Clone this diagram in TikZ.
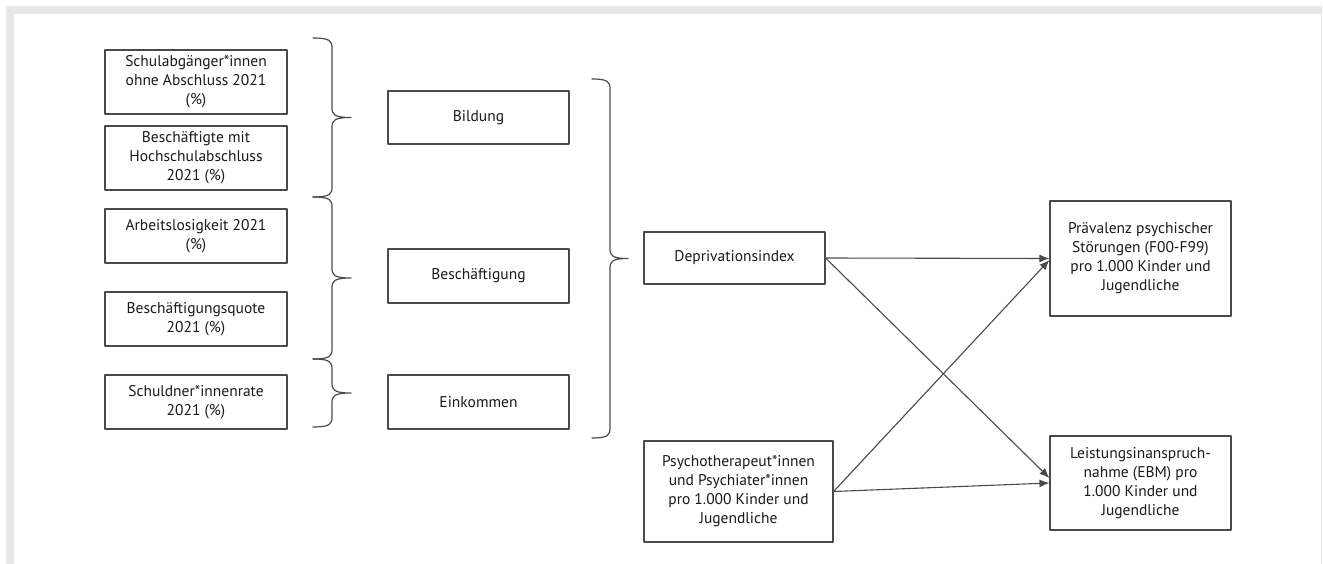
\documentclass[tikz,border=0pt]{standalone}
\usepackage{fontspec}
\setmainfont{PT Sans}
\usetikzlibrary{arrows.meta}
\definecolor{rahmen}{HTML}{E8E8E8}
\definecolor{linie}{HTML}{4A4A4A}
\definecolor{schrift}{HTML}{1A1A1A}
\tikzset{
  kasten/.style={draw=linie, line width=1.2pt, align=center, inner sep=0pt, text=schrift,
    font=\fontsize{15.5}{19}\selectfont},
  klammer/.style={draw=linie, line width=1.2pt},
  pfeil/.style={draw=linie, line width=1.1pt, -{Latex[length=10pt,width=8pt]}}
}
% geschweifte Klammer: x der Enden, y oben, y unten, halbe Breite
\newcommand{\gklammer}[4]{%
  \draw[klammer] (#1,#2) .. controls +({0.9*#4},0) and +(0,-7) .. ({#1+#4},{#2+10})
    -- ({#1+#4},{(#2+#3)/2-10}) .. controls +(0,7) and +({-0.9*#4},0) .. ({#1+2*#4},{(#2+#3)/2})
    .. controls +({-0.9*#4},0) and +(0,-7) .. ({#1+#4},{(#2+#3)/2+10})
    -- ({#1+#4},{#3-10}) .. controls +(0,7) and +({0.9*#4},0) .. (#1,#3);}
\begin{document}
\begin{tikzpicture}[x=1pt, y=-1pt, line join=round, line cap=round]
  \useasboundingbox (0,0) rectangle (1323,564);
  % Rahmen
  \fill[rahmen] (6,6) rectangle (1322,564);
  \fill[white] (14,14) rectangle (1321,564);

  % Indikatoren
  \node[kasten, minimum width=182pt, minimum height=64pt] (abg) at (196,82) {Schulabgänger*innen\\ohne Abschluss 2021\\(\%)};
  \node[kasten, minimum width=182pt, minimum height=64pt] (hoch) at (196,158) {Beschäftigte mit\\Hochschulabschluss\\2021 (\%)};
  \node[kasten, minimum width=182pt, minimum height=54pt] (alos) at (196,236) {Arbeitslosigkeit 2021\\(\%)};
  \node[kasten, minimum width=182pt, minimum height=54pt] (quote) at (196,319) {Beschäftigungsquote\\2021 (\%)};
  \node[kasten, minimum width=182pt, minimum height=54pt] (schuld) at (196,402) {Schuldner*innenrate\\2021 (\%)};

  % Dimensionen
  \node[kasten, minimum width=181pt, minimum height=53pt] (bild) at (478.5,117.5) {Bildung};
  \node[kasten, minimum width=181pt, minimum height=54pt] (besch) at (478.5,276) {Beschäftigung};
  \node[kasten, minimum width=181pt, minimum height=54pt] (eink) at (478.5,402) {Einkommen};

  % Index und Ergebnisse
  \node[kasten, minimum width=181pt, minimum height=52pt] (depr) at (734.5,258) {Deprivationsindex};
  \node[kasten, minimum width=189pt, minimum height=101pt] (psych) at (738.5,491.5) {Psychotherapeut*innen\\und Psychiater*innen\\pro 1.000 Kinder und\\Jugendliche};
  \node[kasten, minimum width=181pt, minimum height=115pt] (praev) at (1140.5,258.5) {Prävalenz psychischer\\Störungen (F00-F99)\\pro 1.000 Kinder und\\Jugendliche};
  \node[kasten, minimum width=181pt, minimum height=94pt] (leist) at (1140.5,483) {Leistungsinanspruch-\\nahme (EBM) pro\\1.000 Kinder und\\Jugendliche};

  % Klammern
  \gklammer{313}{38}{197}{19}
  \gklammer{313}{197}{359}{19}
  \gklammer{313}{359}{427}{19}
  \gklammer{592}{79}{438}{18}

  % Pfeile
  \draw[pfeil] (depr.east) -- (praev.west);
  \draw[pfeil] (depr.east) -- ([yshift=5pt]leist.west);
  \draw[pfeil] (psych.east) -- ([yshift=-1.5pt]praev.west);
  \draw[pfeil] (psych.east) -- (leist.west);
\end{tikzpicture}
\end{document}
